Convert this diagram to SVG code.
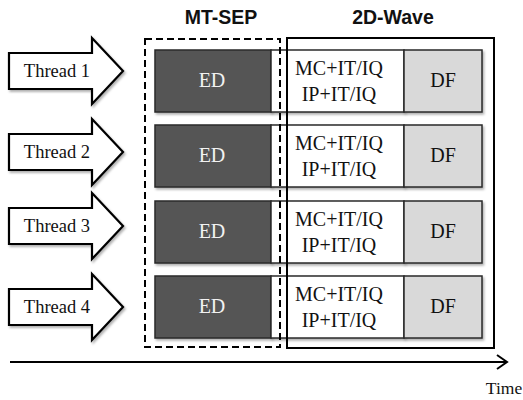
<svg xmlns="http://www.w3.org/2000/svg" width="523" height="400" viewBox="0 0 523 400">
<defs>
<filter id="sh" x="-10%" y="-10%" width="130%" height="130%">
<feDropShadow dx="1.5" dy="2" stdDeviation="1.2" flood-color="#000" flood-opacity="0.3"/>
</filter>
<path id="arr" d="M9,-18 H92 V-33 L123,0 L92,33 V18 H9 Z"/>
</defs>
<style>
.arrow{fill:#fff;stroke:#000;stroke-width:2.2;stroke-linejoin:miter}
.ed{fill:#555;stroke:#2a2a2a;stroke-width:1.5}
.wh{fill:#fff;stroke:#2a2a2a;stroke-width:1.5}
.df{fill:#d9d9d9;stroke:#2a2a2a;stroke-width:1.5}
.t{font-family:"Liberation Serif","Times New Roman",serif;font-size:20px;fill:#111;text-anchor:middle}
.edt{fill:#f2f2f2}
.th{font-size:18.5px}
.title{font-family:"Liberation Sans",Arial,sans-serif;font-weight:bold;font-size:19.5px;fill:#111;text-anchor:middle}
</style>
<rect width="523" height="400" fill="#fff"/>
<text class="title" x="221" y="24">MT-SEP</text>
<text class="title" x="393" y="24">2D-Wave</text>
<g id="arrows">
<g id="thread1" transform="translate(0,71)"><use href="#arr" class="arrow" filter="url(#sh)"/><text class="t th" x="57" y="6">Thread 1</text></g>
<g id="thread2" transform="translate(0,152)"><use href="#arr" class="arrow" filter="url(#sh)"/><text class="t th" x="57" y="6">Thread 2</text></g>
<g id="thread3" transform="translate(0,226)"><use href="#arr" class="arrow" filter="url(#sh)"/><text class="t th" x="57" y="6">Thread 3</text></g>
<g id="thread4" transform="translate(0,307)"><use href="#arr" class="arrow" filter="url(#sh)"/><text class="t th" x="57" y="6">Thread 4</text></g>
</g>
<g id="row1" transform="translate(0,50)">
<rect class="ed" x="155" y="0" width="116" height="62" filter="url(#sh)"/>
<rect class="wh" x="271" y="0" width="133" height="62" filter="url(#sh)"/>
<rect class="df" x="404" y="0" width="78" height="62" filter="url(#sh)"/>
<text class="t edt" x="212" y="37">ED</text>
<text class="t" x="339" y="25">MC+IT/IQ</text>
<text class="t" x="339" y="51">IP+IT/IQ</text>
<text class="t" x="443" y="37">DF</text>
</g>
<g id="row2" transform="translate(0,125)">
<rect class="ed" x="155" y="0" width="116" height="62" filter="url(#sh)"/>
<rect class="wh" x="271" y="0" width="133" height="62" filter="url(#sh)"/>
<rect class="df" x="404" y="0" width="78" height="62" filter="url(#sh)"/>
<text class="t edt" x="212" y="37">ED</text>
<text class="t" x="339" y="25">MC+IT/IQ</text>
<text class="t" x="339" y="51">IP+IT/IQ</text>
<text class="t" x="443" y="37">DF</text>
</g>
<g id="row3" transform="translate(0,201)">
<rect class="ed" x="155" y="0" width="116" height="62" filter="url(#sh)"/>
<rect class="wh" x="271" y="0" width="133" height="62" filter="url(#sh)"/>
<rect class="df" x="404" y="0" width="78" height="62" filter="url(#sh)"/>
<text class="t edt" x="212" y="37">ED</text>
<text class="t" x="339" y="25">MC+IT/IQ</text>
<text class="t" x="339" y="51">IP+IT/IQ</text>
<text class="t" x="443" y="37">DF</text>
</g>
<g id="row4" transform="translate(0,276)">
<rect class="ed" x="155" y="0" width="116" height="62" filter="url(#sh)"/>
<rect class="wh" x="271" y="0" width="133" height="62" filter="url(#sh)"/>
<rect class="df" x="404" y="0" width="78" height="62" filter="url(#sh)"/>
<text class="t edt" x="212" y="37">ED</text>
<text class="t" x="339" y="25">MC+IT/IQ</text>
<text class="t" x="339" y="51">IP+IT/IQ</text>
<text class="t" x="443" y="37">DF</text>
</g>
<g id="mt-sep">
<rect x="145" y="39" width="135" height="308" fill="none" stroke="#000" stroke-width="2" stroke-dasharray="7,4"/>
</g>
<g id="wave2d">
<rect x="287" y="38" width="207" height="310" fill="none" stroke="#000" stroke-width="2"/>
</g>
<g id="connectors">
<line x1="10" y1="362" x2="507" y2="362" stroke="#000" stroke-width="2"/>
<path d="M497,355 L507,362 L497,369" fill="none" stroke="#000" stroke-width="2"/>
</g>
<text class="t" x="504" y="394" style="font-size:17.5px">Time</text>
</svg>
